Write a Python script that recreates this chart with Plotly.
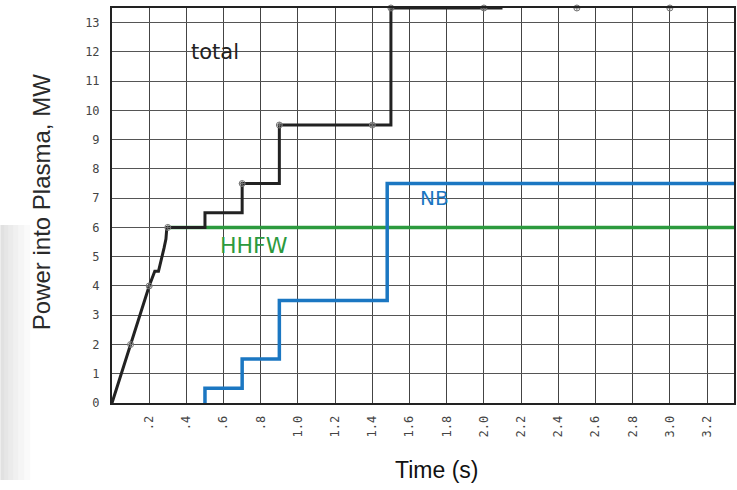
import plotly.graph_objects as go

# ---- data ----
ramp_t = [0, 0.1, 0.2, 0.23, 0.25, 0.28, 0.29, 0.295, 0.3]
ramp_p = [0, 2, 4, 4.5, 4.5, 5.3, 5.6, 6, 6]

step_t = [0.3, 0.5, 0.7, 0.9, 1.5, 2.1]
step_p = [6, 6.5, 7.5, 9.5, 13.5, 13.5]

mark_t = [0.1, 0.2, 0.3, 0.7, 0.9, 1.4, 1.5, 2.0, 2.5, 3.0]
mark_p = [2, 4, 6, 7.5, 9.5, 9.5, 13.5, 13.5, 13.5, 13.5]

nb_t = [0.5, 0.5, 0.7, 0.9, 1.48, 3.35]
nb_p = [0, 0.5, 1.5, 3.5, 7.5, 7.5]

hhfw_t = [0.3, 3.35]
hhfw_p = [6, 6]

x_tickvals = [0.2, 0.4, 0.6, 0.8, 1.0, 1.2, 1.4, 1.6, 1.8, 2.0, 2.2, 2.4, 2.6, 2.8, 3.0, 3.2]
x_ticktext = [".2", ".4", ".6", ".8", "1.0", "1.2", "1.4", "1.6", "1.8", "2.0",
              "2.2", "2.4", "2.6", "2.8", "3.0", "3.2"]
y_tickvals = list(range(0, 14))
y_ticktext = [str(v) for v in y_tickvals]

BLACK = "#222222"
BLUE = "#1b77c2"
GREEN = "#2c9a3e"

fig = go.Figure()

fig.add_trace(go.Scatter(x=hhfw_t, y=hhfw_p, mode="lines",
                         line=dict(color=GREEN, width=3.5), cliponaxis=False,
                         hoverinfo="skip", showlegend=False))
fig.add_trace(go.Scatter(x=nb_t, y=nb_p, mode="lines", line_shape="hv",
                         line=dict(color=BLUE, width=3.5), cliponaxis=False,
                         hoverinfo="skip", showlegend=False))
fig.add_trace(go.Scatter(x=ramp_t, y=ramp_p, mode="lines",
                         line=dict(color=BLACK, width=3), cliponaxis=False,
                         hoverinfo="skip", showlegend=False))
fig.add_trace(go.Scatter(x=step_t, y=step_p, mode="lines", line_shape="hv",
                         line=dict(color=BLACK, width=3), cliponaxis=False,
                         hoverinfo="skip", showlegend=False))
fig.add_trace(go.Scatter(x=mark_t, y=mark_p, mode="markers",
                         marker=dict(symbol="circle-cross-open", size=6,
                                     color="#777777", line=dict(width=1)),
                         cliponaxis=False, hoverinfo="skip", showlegend=False))

# series labels
fig.add_annotation(x=0.555, y=12.0, text="total", showarrow=False,
                   font=dict(family="DejaVu Sans", size=21, color=BLACK))
fig.add_annotation(x=1.735, y=7.0, text="NB", showarrow=False,
                   font=dict(family="DejaVu Sans", size=20, color=BLUE))
fig.add_annotation(x=0.765, y=5.4, text="HHFW", showarrow=False,
                   font=dict(family="DejaVu Sans", size=22, color=GREEN))

# axis titles
fig.add_annotation(xref="paper", yref="paper", x=(438 - 112) / 624, y=(403 - 470) / 395,
                   xanchor="center", yanchor="middle",
                   text="Time (s)", showarrow=False,
                   font=dict(family="Liberation Sans", size=23, color="#111111"))
fig.add_annotation(xref="paper", yref="paper", x=(42 - 112) / 624, y=(403 - 202) / 395,
                   xanchor="center", yanchor="middle",
                   text="Power into Plasma, MW", showarrow=False, textangle=-90,
                   font=dict(family="Liberation Sans Narrow, Liberation Sans", size=24,
                             color="#2a2a2a"))

# faint shadow at left edge
shapes = []
for w in [30, 24, 18, 13, 8, 4]:
    shapes.append(dict(type="rect", xref="paper", yref="paper",
                       x0=-112 / 624, x1=(w - 112) / 624,
                       y0=(403 - 480) / 395, y1=(403 - 225) / 395,
                       fillcolor="rgba(0,0,0,0.018)", line=dict(width=0), layer="below"))
fig.update_layout(shapes=shapes)

fig.update_layout(
    width=737, height=490,
    margin=dict(l=112, r=1, t=8, b=87),
    paper_bgcolor="white", plot_bgcolor="white",
    font=dict(family="DejaVu Sans Mono", size=12, color="#444444"),
)
fig.update_xaxes(range=[0, 3.345], tickvals=x_tickvals, ticktext=x_ticktext,
                 tickangle=-90, ticks="", ticklabelstandoff=6,
                 tickfont=dict(family="DejaVu Sans Mono", size=12, color="#444444"),
                 showgrid=True, gridcolor="#444444", gridwidth=1.3, zeroline=False,
                 showline=True, linecolor="#222222", linewidth=2, mirror=True)
fig.update_yaxes(range=[0, 13.5], tickvals=y_tickvals, ticktext=y_ticktext,
                 ticks="", ticklabelstandoff=8,
                 tickfont=dict(family="DejaVu Sans Mono", size=12, color="#444444"),
                 showgrid=True, gridcolor="#555555", gridwidth=1.3, zeroline=False,
                 showline=True, linecolor="#222222", linewidth=2, mirror=True)

fig.write_html("out.html")
